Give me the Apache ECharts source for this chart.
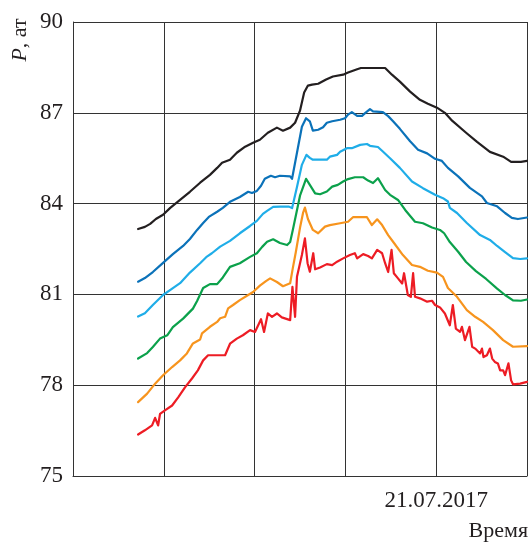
<!DOCTYPE html>
<html>
<head>
<meta charset="utf-8">
<script src="https://cdn.jsdelivr.net/npm/echarts@6/dist/echarts.min.js"></script>
<style>
html,body{margin:0;padding:0;background:#fff;}
#chart{width:532px;height:543px;}
</style>
</head>
<body>
<div id="chart"></div>
<script>
// x: hours from the chart start (one grid cell = 24 h), y: pressure P, at
const xTickLabels = {96: '21.07.2017'};
const yTicks = [75, 78, 81, 84, 87, 90];

const seriesBlack = [
[17.2,83.16],[19.0,83.23],[20.4,83.33],[21.9,83.49],[23.8,83.63],[25.7,83.86],[28.3,84.12],[30.9,84.39],
[33.6,84.69],[36.2,84.95],[38.1,85.18],[39.4,85.35],[41.5,85.45],[43.3,85.68],[45.5,85.88],[47.6,86.01],
[49.4,86.11],[51.5,86.34],[53.9,86.51],[55.5,86.41],[57.4,86.51],[58.7,86.67],[60.0,87.07],[61.1,87.67],
[62.1,87.90],[63.2,87.93],[64.8,87.96],[66.9,88.10],[68.7,88.20],[71.4,88.26],[72.7,88.33],[75.1,88.44],
[76.1,88.48],[82.5,88.48],[84.3,88.26],[86.4,88.03],[89.1,87.70],[91.7,87.43],[93.8,87.30],[96.2,87.17],
[98.3,87.00],[100.2,86.74],[103.9,86.34],[106.8,86.04],[110.2,85.71],[113.7,85.55],[115.8,85.38],[118.4,85.38],[120.0,85.41]
];
const seriesDarkBlue = [
[17.2,81.42],[19.0,81.54],[21.1,81.74],[23.8,82.04],[26.4,82.33],[29.1,82.60],[30.9,82.83],[32.8,83.13],
[34.4,83.36],[35.9,83.56],[38.1,83.73],[39.6,83.86],[41.5,84.06],[44.1,84.22],[46.3,84.39],[47.3,84.35],
[48.6,84.42],[49.7,84.59],[50.7,84.82],[52.3,84.92],[53.4,84.87],[54.7,84.92],[57.4,84.90],[57.9,84.82],
[59.2,85.68],[60.5,86.54],[61.6,86.82],[62.6,86.72],[63.4,86.41],[64.8,86.44],[66.1,86.52],[67.1,86.67],
[68.5,86.72],[70.6,86.77],[71.9,86.82],[72.7,86.94],[73.7,87.02],[75.1,86.90],[76.4,86.90],[77.2,86.99],
[78.5,87.12],[79.3,87.05],[81.9,87.02],[83.3,86.89],[84.6,86.72],[86.4,86.47],[89.1,86.06],[91.2,85.78],
[93.6,85.66],[95.7,85.48],[97.5,85.41],[99.1,85.18],[101.8,84.90],[104.9,84.52],[108.1,84.24],[109.4,84.02],
[112.1,83.91],[114.2,83.69],[116.0,83.53],[117.6,83.49],[120.0,83.54]
];
const seriesLightBlue = [
[17.2,80.27],[19.0,80.38],[21.1,80.65],[23.8,80.98],[26.4,81.21],[28.3,81.37],[30.9,81.72],[33.6,82.03],
[35.4,82.25],[36.7,82.36],[38.9,82.58],[41.5,82.77],[44.1,83.02],[46.8,83.26],[48.6,83.43],[50.2,83.66],
[51.3,83.76],[52.9,83.89],[54.7,83.90],[57.1,83.90],[57.9,83.85],[59.2,84.55],[60.5,85.28],[61.7,85.61],
[62.6,85.51],[63.4,85.45],[67.1,85.45],[67.9,85.55],[69.8,85.61],[70.6,85.71],[72.4,85.83],[73.7,85.83],
[75.9,85.94],[77.7,85.97],[78.5,85.91],[80.6,85.87],[81.9,85.72],[83.8,85.50],[86.4,85.18],[89.6,84.73],
[92.5,84.51],[95.7,84.29],[97.8,84.18],[99.1,84.07],[99.6,83.86],[101.5,83.69],[104.1,83.36],[107.6,82.96],
[110.2,82.80],[112.1,82.60],[114.2,82.40],[116.3,82.20],[118.2,82.17],[120.0,82.19]
];
const seriesGreen = [
[17.2,78.88],[19.6,79.06],[21.1,79.26],[23.0,79.54],[24.9,79.65],[26.4,79.92],[29.1,80.20],[31.7,80.53],
[32.8,80.78],[34.4,81.21],[36.2,81.34],[38.1,81.34],[39.6,81.56],[41.5,81.91],[44.1,82.03],[46.8,82.24],
[48.6,82.36],[50.0,82.57],[51.3,82.74],[52.9,82.82],[54.7,82.70],[56.6,82.63],[57.4,82.73],[58.1,83.13],
[60.0,84.26],[61.6,84.82],[62.6,84.62],[64.0,84.34],[65.3,84.31],[67.1,84.40],[68.5,84.56],[70.0,84.62],
[71.4,84.73],[72.7,84.81],[74.5,84.87],[76.7,84.87],[78.0,84.76],[79.3,84.68],[80.6,84.84],[82.5,84.45],
[83.8,84.29],[85.9,84.12],[87.8,83.79],[90.4,83.40],[92.5,83.35],[94.9,83.21],[97.0,83.13],[98.1,83.02],
[99.6,82.73],[101.8,82.41],[103.9,82.07],[106.5,81.77],[109.2,81.51],[112.1,81.19],[114.2,80.98],[116.3,80.80],
[118.4,80.79],[120.0,80.83]
];
const seriesOrange = [
[17.2,77.44],[19.6,77.72],[21.7,78.05],[23.8,78.33],[26.2,78.60],[28.3,78.82],[30.1,79.05],[31.7,79.38],
[33.6,79.51],[34.1,79.71],[36.2,79.93],[38.1,80.09],[38.9,80.21],[40.2,80.26],[41.0,80.54],[42.3,80.65],
[44.1,80.81],[46.3,80.98],[47.6,81.08],[49.4,81.29],[51.0,81.44],[52.1,81.53],[53.9,81.41],[55.5,81.27],
[57.4,81.37],[58.1,81.87],[58.9,82.40],[60.0,83.20],[60.8,83.69],[61.3,83.87],[62.1,83.49],[63.4,83.13],
[64.8,83.02],[66.6,83.24],[67.9,83.29],[70.6,83.35],[72.7,83.40],[74.0,83.55],[77.7,83.55],[79.0,83.29],
[80.4,83.48],[81.7,83.29],[83.3,82.96],[84.6,82.74],[87.2,82.30],[89.6,81.97],[91.7,81.91],[93.8,81.78],
[96.2,81.72],[97.8,81.58],[99.1,81.21],[101.5,80.92],[104.1,80.48],[106.3,80.26],[108.4,80.09],[111.0,79.82],
[113.7,79.49],[116.3,79.27],[120.0,79.29]
];
const seriesRed = [
[17.2,76.37],[19.0,76.51],[20.9,76.67],[21.7,76.92],[22.5,76.67],[23.0,77.05],[24.3,77.17],[26.2,77.33],
[27.8,77.60],[29.6,77.93],[31.5,78.23],[33.0,78.49],[34.4,78.82],[35.7,78.99],[40.2,78.99],[41.5,79.37],
[43.3,79.54],[44.9,79.65],[46.8,79.82],[48.1,79.76],[49.7,80.18],[50.5,79.76],[51.5,80.37],[52.6,80.26],
[53.9,80.37],[55.2,80.24],[57.4,80.15],[58.0,81.25],[58.7,80.26],[59.2,81.58],[60.5,82.30],[61.3,82.85],
[62.0,82.03],[62.6,81.75],[63.5,82.36],[64.0,81.83],[65.3,81.89],[67.1,82.00],[68.5,81.97],[69.8,82.08],
[71.4,82.19],[73.2,82.30],[74.5,82.36],[75.1,82.19],[76.7,82.33],[78.0,82.27],[79.0,82.19],[80.4,82.47],
[81.7,82.36],[82.5,82.03],[83.3,81.74],[84.2,82.47],[84.8,81.70],[85.9,81.53],[87.0,81.36],[87.5,81.70],
[88.5,80.98],[89.3,80.92],[89.9,81.70],[90.4,80.92],[91.7,80.87],[93.6,80.76],[94.9,80.79],[95.7,80.65],
[97.0,80.57],[98.3,80.37],[99.6,79.98],[100.4,80.65],[101.2,79.87],[102.3,79.76],[102.8,79.93],[103.6,79.49],
[104.8,79.93],[105.5,79.27],[106.3,79.21],[107.6,79.05],[108.1,79.21],[108.5,78.93],[109.4,78.99],[110.2,79.21],
[110.8,78.88],[111.5,78.77],[112.3,78.72],[112.9,78.49],[113.7,78.49],[114.2,78.33],[115.1,78.72],[115.8,78.16],
[116.3,78.03],[118.2,78.05],[120.0,78.11]
];

const seriesList = [
  {data: seriesBlack, color: '#231f20'},
  {data: seriesDarkBlue, color: '#0b72b9'},
  {data: seriesLightBlue, color: '#1fade8'},
  {data: seriesGreen, color: '#0ba14b'},
  {data: seriesOrange, color: '#f7941d'},
  {data: seriesRed, color: '#ed1c24'}
];

const FONT = "'Liberation Serif', 'DejaVu Serif', serif";
const chart = echarts.init(document.getElementById('chart'), null, {renderer: 'canvas'});
chart.setOption({
  animation: false,
  backgroundColor: '#fff',
  grid: {left: 73, right: 5, top: 22, bottom: 67, containLabel: false},
  xAxis: {
    type: 'value', min: 0, max: 120, interval: 24,
    axisLine: {show: true, lineStyle: {color: '#333', width: 1}},
    axisTick: {show: false},
    splitLine: {show: true, lineStyle: {color: '#333', width: 1}},
    axisLabel: {
      show: true, margin: 13, color: '#231f20', fontFamily: FONT, fontSize: 23,
      formatter: v => xTickLabels[v] || ''
    }
  },
  yAxis: {
    type: 'value', min: yTicks[0], max: yTicks[yTicks.length - 1], interval: 3,
    axisLine: {show: true, lineStyle: {color: '#333', width: 1}},
    axisTick: {show: false},
    splitLine: {show: true, lineStyle: {color: '#333', width: 1}},
    axisLabel: {margin: 10, color: '#231f20', fontFamily: FONT, fontSize: 23}
  },
  graphic: [
    {
      type: 'text', x: 20, y: 40, rotation: Math.PI / 2,
      style: {
        text: '{i|P}, ат', fill: '#231f20', align: 'center', verticalAlign: 'middle',
        font: '22px ' + FONT,
        rich: {i: {fontStyle: 'italic', fontFamily: FONT, fontSize: 22, fill: '#231f20'}}
      }
    },
    {
      type: 'text', right: 4, top: 520,
      style: {text: 'Время', fill: '#231f20', font: '22px ' + FONT}
    }
  ],
  series: seriesList.map(s => ({
    type: 'line', data: s.data, showSymbol: false, symbol: 'none',
    lineStyle: {color: s.color, width: 2.2, join: 'round', cap: 'round'},
    itemStyle: {color: s.color},
    emphasis: {disabled: true}
  }))
});
</script>
</body>
</html>
